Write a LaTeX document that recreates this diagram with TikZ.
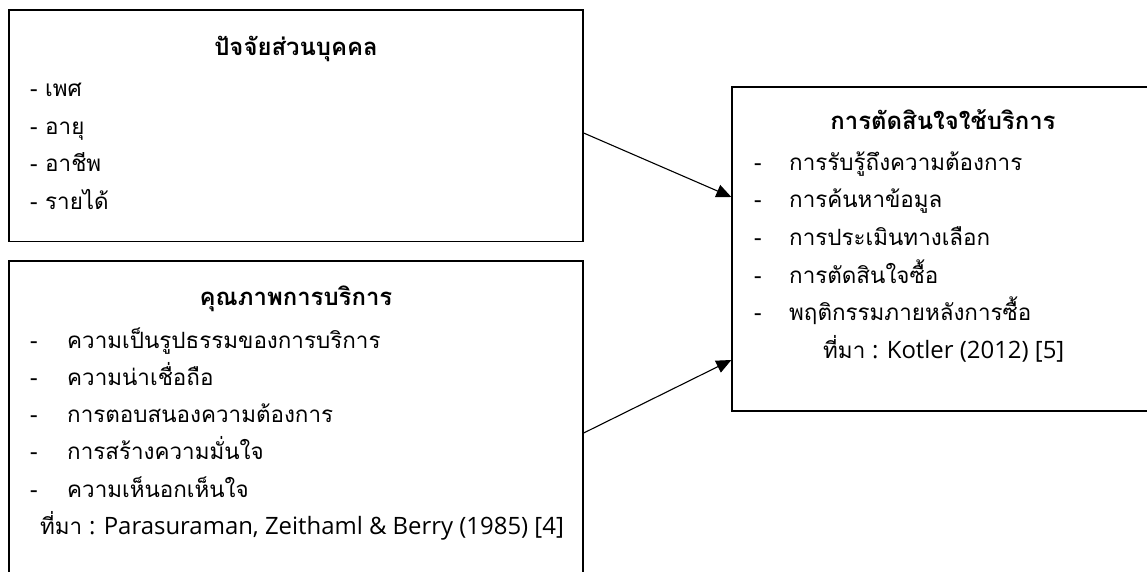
\documentclass[tikz,border=0pt]{standalone}
\usepackage{fontspec}
\setmainfont[Script=Thai]{Loma}
\newfontfamily\latinfont{Open Sans}
\usetikzlibrary{arrows.meta}
\begin{document}
\begin{tikzpicture}[x=1bp,y=-1bp,
  box/.style={draw, line width=1.3bp, rectangle, inner sep=0},
  txt/.style={anchor=base west, inner sep=0, font=\fontsize{22.5}{26}\selectfont},
  src/.style={txt, font=\latinfont\fontsize{24}{28}\selectfont},
  ttl/.style={anchor=base, inner sep=0, font=\fontsize{24}{28}\selectfont\bfseries},
  conn/.style={line width=1.1bp, -{Triangle[length=15bp,width=13bp]}}]
\useasboundingbox (0,0) rectangle (1147,572);
\fill[white] (0,0) rectangle (1147,572);
\begin{scope}
\clip (0,0) rectangle (1147,572);
\node[box, minimum width=574bp, minimum height=231.7bp] (box1) at (296,125.85) {};
\node[box, minimum width=574bp, minimum height=339bp] (box2) at (296,430.5) {};
\node[box, minimum width=422bp, minimum height=324bp] (box3) at (943,249) {};
\end{scope}
% box 1
\node[ttl] (t1) at (296,56) {ปัจจัยส่วนบุคคล};
\node[txt] (a1) at (30,97) {- เพศ};
\node[txt] (a2) at (30,135) {- อายุ};
\node[txt] (a3) at (30,172) {- อาชีพ};
\node[txt] (a4) at (30,210) {- รายได้};
% box 2
\node[ttl] (t2) at (296,306) {คุณภาพการบริการ};
\node[txt] (bd1) at (30,348) {-};
\node[txt] (b1) at (67,348) {ความเป็นรูปธรรมของการบริการ};
\node[txt] (bd2) at (30,385) {-};
\node[txt] (b2) at (67,385) {ความน่าเชื่อถือ};
\node[txt] (bd3) at (30,422) {-};
\node[txt] (b3) at (67,422) {การตอบสนองความต้องการ};
\node[txt] (bd4) at (30,459) {-};
\node[txt] (b4) at (67,459) {การสร้างความมั่นใจ};
\node[txt] (bd5) at (30,497) {-};
\node[txt] (b5) at (67,497) {ความเห็นอกเห็นใจ};
\node[txt] (bs) at (40,534) {ที่มา};
\node[src] (bs2) at (89,534) {: Parasuraman, Zeithaml \& Berry (1985) [4]};
% box 3
\node[ttl] (t3) at (943,130) {การตัดสินใจใช้บริการ};
\node[txt] (cd1) at (754,171) {-};
\node[txt] (c1) at (789,171) {การรับรู้ถึงความต้องการ};
\node[txt] (cd2) at (754,208) {-};
\node[txt] (c2) at (789,208) {การค้นหาข้อมูล};
\node[txt] (cd3) at (754,246) {-};
\node[txt] (c3) at (789,246) {การประเมินทางเลือก};
\node[txt] (cd4) at (754,284) {-};
\node[txt] (c4) at (789,284) {การตัดสินใจซื้อ};
\node[txt] (cd5) at (754,321) {-};
\node[txt] (c5) at (789,321) {พฤติกรรมภายหลังการซื้อ};
\node[txt] (cs) at (823,358) {ที่มา};
\node[src] (cs2) at (872,358) {: Kotler (2012) [5]};
% connectors
\draw[conn] ([yshift=-7.15bp]box1.east) -- ([yshift=52bp]box3.west);
\draw[conn] ([yshift=-2.5bp]box2.east) -- ([yshift=-111bp]box3.west);
\end{tikzpicture}
\end{document}
